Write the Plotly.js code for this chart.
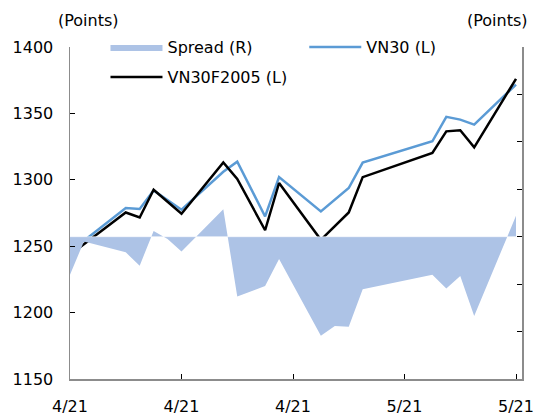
<!DOCTYPE html>
<html>
<head>
<meta charset="utf-8">
<script src="https://cdn.plot.ly/plotly-3.0.1.min.js"></script>
<style>html,body{margin:0;padding:0;background:#fff;}#chart{width:538px;height:416px;}</style>
</head>
<body>
<div id="chart"></div>
<script>
// Trading dates (2021)
var dates = ['2021-04-08','2021-04-09','2021-04-12','2021-04-13','2021-04-14','2021-04-15','2021-04-16',
             '2021-04-19','2021-04-20','2021-04-22','2021-04-23','2021-04-26','2021-04-27','2021-04-28',
             '2021-04-29','2021-05-04','2021-05-05','2021-05-06','2021-05-07','2021-05-10'];
// VN30 index (L)
var vn30 = [1252.8,1254.1,1278.7,1278.0,1292.0,1285.0,1277.5,1306.0,1313.6,1272.4,1302.0,1276.2,1285.0,1293.8,
            1312.9,1329.0,1347.4,1345.3,1341.6,1371.7];
// VN30F2005 futures (L)
var vn30f = [1243.5,1251.5,1275.4,1271.6,1292.5,1283.5,1274.4,1313.1,1300.6,1262.0,1297.6,1254.8,1265.0,1275.4,
             1302.0,1320.2,1336.5,1337.3,1324.4,1376.0];
// Spread (R)
var spread = [-8.0,-1.0,-3.3,-6.1,1.2,-0.5,-3.1,5.8,-12.6,-10.4,-4.7,-20.9,-18.8,-19.0,-11.1,-8.0,-10.9,-8.3,-16.7,4.4];
// Tick labels
var xTickVals = ['2021-04-08','2021-04-16','2021-04-24','2021-05-02','2021-05-10'];
var xTickText = ['4/21','4/21','4/21','5/21','5/21'];
var leftTicks = [1150,1200,1250,1300,1350,1400];

var FONT = 'DejaVu Sans, Verdana, sans-serif';
var traces = [
  {x: dates, y: spread, name: 'Spread (R)', type: 'scatter', mode: 'lines', yaxis: 'y2',
   fill: 'tozeroy', fillcolor: '#adc3e6', line: {width: 0, color: '#adc3e6'}, legend: 'legend'},
  {x: dates, y: vn30, name: 'VN30 (L)', type: 'scatter', mode: 'lines',
   line: {color: '#5b9bd5', width: 2.5}, legend: 'legend3'},
  {x: dates, y: vn30f, name: 'VN30F2005 (L)', type: 'scatter', mode: 'lines',
   line: {color: '#000000', width: 2.5}, legend: 'legend2'}
];
var axisLine = '#8c8c8c';
function leg(x, y) {
  return {orientation: 'h', x: x, xanchor: 'left', y: y, yanchor: 'middle',
          itemwidth: 52, bgcolor: 'rgba(0,0,0,0)', font: {family: FONT, size: 16, color: '#000'}};
}
var layout = {
  width: 538, height: 416,
  margin: {l: 70, r: 16, t: 47, b: 37},
  paper_bgcolor: '#fff', plot_bgcolor: '#fff',
  font: {family: FONT, size: 16, color: '#000'},
  showlegend: true,
  xaxis: {type: 'date', range: ['2021-04-08 00:00', '2021-05-10 10:20'],
          tickvals: xTickVals, ticktext: xTickText, ticks: 'inside', ticklen: 5, tickcolor: '#000',
          showline: true, linecolor: axisLine, linewidth: 1.5, showgrid: false, zeroline: false,
          ticklabelstandoff: 12, tickfont: {family: FONT, size: 16}},
  yaxis: {range: [1150, 1400], tickvals: leftTicks, ticks: 'inside', ticklen: 5, tickcolor: '#000',
          showline: true, linecolor: axisLine, linewidth: 1.5, showgrid: false, zeroline: false,
          ticklabelstandoff: 12, tickfont: {family: FONT, size: 16}},
  yaxis2: {range: [-30, 40], dtick: 10, overlaying: 'y', side: 'right', ticks: 'inside', ticklen: 5,
           tickcolor: '#000', showline: true, linecolor: axisLine, linewidth: 1.5, showgrid: false,
           zeroline: false, showticklabels: false},
  legend: leg(0.0785, 1.0),
  legend3: leg(0.5183, 1.0),
  legend2: leg(0.0785, 0.9096),
  shapes: [{type: 'line', xref: 'x', yref: 'y2', x0: dates[0], x1: dates[dates.length - 1], y0: 0, y1: 0,
            line: {color: 'rgba(255,255,255,0.55)', width: 1}, layer: 'above'}],
  annotations: [
    {text: '(Points)', xref: 'paper', yref: 'paper', x: 0.04, y: 1.081, showarrow: false,
     xanchor: 'center', yanchor: 'middle', font: {family: FONT, size: 16}},
    {text: '(Points)', xref: 'paper', yref: 'paper', x: 0.945, y: 1.081, showarrow: false,
     xanchor: 'center', yanchor: 'middle', font: {family: FONT, size: 16}}
  ]
};
Plotly.newPlot('chart', traces, layout, {displayModeBar: false, staticPlot: true});
</script>
</body>
</html>
